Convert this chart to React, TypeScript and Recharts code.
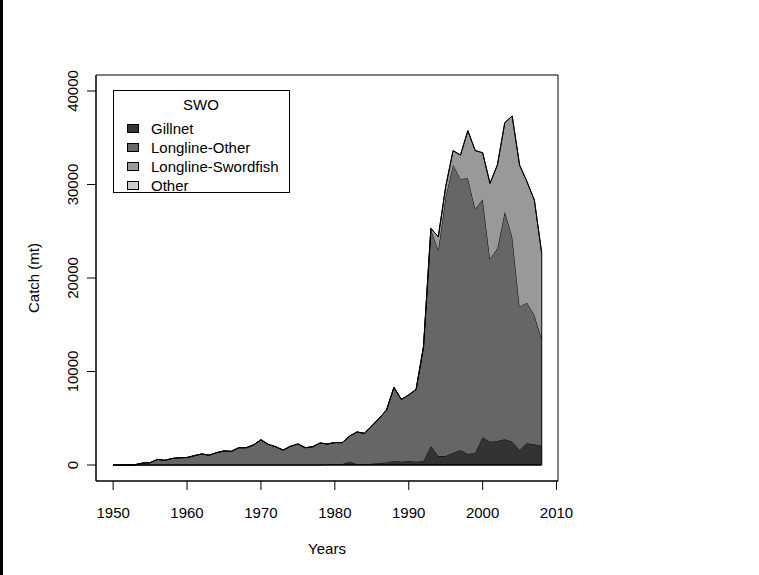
import React from 'react';
import { AreaChart, Area, XAxis, YAxis, Legend, ReferenceArea, ReferenceLine } from 'recharts';

const years = [
  1950, 1951, 1952, 1953, 1954, 1955, 1956, 1957, 1958, 1959,
  1960, 1961, 1962, 1963, 1964, 1965, 1966, 1967, 1968, 1969,
  1970, 1971, 1972, 1973, 1974, 1975, 1976, 1977, 1978, 1979,
  1980, 1981, 1982, 1983, 1984, 1985, 1986, 1987, 1988, 1989,
  1990, 1991, 1992, 1993, 1994, 1995, 1996, 1997, 1998, 1999,
  2000, 2001, 2002, 2003, 2004, 2005, 2006, 2007, 2008,
];

const gillnet = [
  0, 0, 0, 0, 0, 0, 0, 0, 0, 0,
  0, 0, 0, 0, 0, 0, 0, 0, 0, 0,
  0, 0, 0, 0, 0, 0, 0, 0, 0, 50,
  70, 100, 350, 70, 100, 140, 180, 280, 430, 350,
  430, 350, 430, 2030, 960, 960, 1320, 1600, 1180, 1320,
  2960, 2500, 2570, 2750, 2500, 1600, 2320, 2210, 2030,
];

const longlineOther = [
  0, 0, 10, 40, 210, 250, 600, 500, 700, 780,
  800, 1000, 1180, 1050, 1320, 1500, 1460, 1850, 1850, 2150,
  2700, 2200, 1950, 1600, 2000, 2250, 1850, 1950, 2350, 2200,
  2330, 2290, 2750, 3460, 3290, 4030, 4820, 5600, 7870, 6670,
  7060, 7740, 12220, 23170, 22030, 27740, 30770, 28990, 29480, 26060,
  25450, 19530, 20600, 24340, 21920, 15330, 15040, 13830, 11410,
];

const longlineSwordfish = [
  0, 0, 0, 0, 0, 0, 0, 0, 0, 0,
  0, 0, 0, 0, 0, 0, 0, 0, 0, 0,
  0, 0, 0, 0, 0, 0, 0, 0, 0, 0,
  0, 0, 0, 0, 0, 0, 0, 0, 0, 0,
  0, 0, 0, 100, 1430, 1070, 1530, 2560, 5100, 6240,
  4990, 8090, 8920, 9520, 12910, 15160, 12940, 12300, 9200,
];

const other = [
  0, 0, 0, 0, 0, 0, 0, 0, 0, 0,
  0, 0, 0, 0, 0, 0, 0, 0, 0, 0,
  0, 0, 0, 0, 0, 0, 0, 0, 0, 0,
  0, 0, 0, 0, 0, 0, 0, 0, 0, 0,
  0, 0, 0, 0, 0, 0, 0, 0, 0, 0,
  0, 0, 0, 0, 0, 0, 0, 0, 0,
];

const xTicks = [1950, 1960, 1970, 1980, 1990, 2000, 2010];
const yTicks = [0, 10000, 20000, 30000, 40000];

const X_DOMAIN: [number, number] = [1947.68, 2010.2];
const Y_DOMAIN: [number, number] = [-1711, 41711];

const series = [
  { key: 'gillnet', name: 'Gillnet', color: '#333333', values: gillnet },
  { key: 'longlineOther', name: 'Longline-Other', color: '#666666', values: longlineOther },
  { key: 'longlineSwordfish', name: 'Longline-Swordfish', color: '#999999', values: longlineSwordfish },
  { key: 'other', name: 'Other', color: '#cccccc', values: other },
];

const data = years.map((year, i) => {
  const row: Record<string, number> = { year };
  series.forEach(s => { row[s.key] = s.values[i]; });
  return row;
});

const lastIdx = years.length - 1;
const lastTotal = series.reduce((sum, s) => sum + s.values[lastIdx], 0);

const FONT = '"Liberation Sans", Arial, sans-serif';

const YTick = (props: any) => {
  const { x, y, payload } = props;
  return (
    <text
      transform={`translate(${x - 13}, ${y}) rotate(-90)`}
      textAnchor="middle"
      dominantBaseline="central"
      fontSize={15}
      fontFamily={FONT}
      fill="#000"
    >
      {payload.value}
    </text>
  );
};

const LegendBox = () => (
  <svg width={177} height={103} style={{ display: 'block' }}>
    <rect x={0.5} y={0.5} width={176} height={102} fill="#fff" stroke="#000" />
    <text x={88} y={14} textAnchor="middle" dominantBaseline="central" fontSize={15} fontFamily={FONT}>
      SWO
    </text>
    {series.map((s, i) => (
      <g key={s.key}>
        <rect x={14.5} y={34.5 + i * 19} width={11} height={8} fill={s.color} stroke="#000" />
        <text x={38} y={38.5 + i * 19} dominantBaseline="central" fontSize={15} fontFamily={FONT}>
          {s.name}
        </text>
      </g>
    ))}
  </svg>
);

const App: React.FC = () => {
  return (
    <div style={{ position: 'relative', width: 759, height: 575, background: '#fff', fontFamily: FONT }}>
      <style>{'body{margin:0}'}</style>
      <div style={{ position: 'absolute', left: 0, top: 0, width: 3, height: 575, background: '#000' }} />
      <AreaChart
        width={759}
        height={575}
        data={data}
        margin={{ top: 75, right: 201, bottom: 64, left: 66 }}
      >
        <XAxis
          dataKey="year"
          type="number"
          domain={X_DOMAIN}
          ticks={xTicks}
          allowDataOverflow
          axisLine={{ stroke: '#000' }}
          tickLine={{ stroke: '#000' }}
          tickSize={9}
          tickMargin={17}
          tick={{ fill: '#000', fontSize: 15, fontFamily: FONT }}
          height={30}
        />
        <YAxis
          type="number"
          domain={Y_DOMAIN}
          ticks={yTicks}
          allowDataOverflow
          axisLine={{ stroke: '#000' }}
          tickLine={{ stroke: '#000' }}
          tickSize={9}
          tick={<YTick />}
          width={30}
        />
        {series.map(s => (
          <Area
            key={s.key}
            type="linear"
            dataKey={s.key}
            name={s.name}
            stackId="1"
            stroke="#000"
            strokeWidth={1}
            fill={s.color}
            fillOpacity={1}
            isAnimationActive={false}
          />
        ))}
        <ReferenceLine
          segment={[{ x: years[0], y: 0 }, { x: years[lastIdx], y: 0 }]}
          stroke="#000"
          strokeWidth={1.5}
        />
        <ReferenceLine
          segment={[{ x: years[lastIdx], y: 0 }, { x: years[lastIdx], y: lastTotal }]}
          stroke="#000"
          strokeWidth={1}
        />
        <ReferenceArea
          x1={X_DOMAIN[0]}
          x2={X_DOMAIN[1]}
          y1={Y_DOMAIN[0]}
          y2={Y_DOMAIN[1]}
          ifOverflow="visible"
          fill="none"
          fillOpacity={0}
          stroke="#000"
          strokeWidth={1}
          strokeOpacity={1}
        />
        <Legend
          layout="vertical"
          align="center"
          verticalAlign="middle"
          content={() => <LegendBox />}
          wrapperStyle={{ position: 'absolute', left: 113, top: 90, width: 177, height: 103 }}
        />
      </AreaChart>
      <div
        style={{
          position: 'absolute',
          left: 96,
          width: 462,
          top: 540,
          textAlign: 'center',
          fontSize: 15,
          lineHeight: '18px',
        }}
      >
        Years
      </div>
      <div
        style={{
          position: 'absolute',
          left: 34,
          top: 278,
          transform: 'translate(-50%, -50%) rotate(-90deg)',
          fontSize: 15,
          lineHeight: '18px',
          whiteSpace: 'nowrap',
        }}
      >
        Catch (mt)
      </div>
    </div>
  );
};

export default App;
